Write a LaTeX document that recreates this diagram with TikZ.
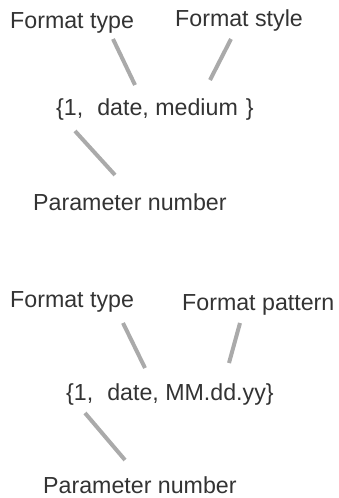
\documentclass[tikz,border=0pt]{standalone}
\usepackage{fontspec}
\setmainfont{Liberation Sans}
\usetikzlibrary{positioning}
\definecolor{labelgray}{HTML}{333333}
\definecolor{linkgray}{HTML}{AAAAAA}
\tikzset{
  lbl/.style={inner sep=0pt,anchor=base west,text=labelgray,font=\fontsize{23.2}{27}\selectfont},
  link/.style={draw=linkgray,line width=4pt,line cap=butt}
}

\begin{document}
\begin{tikzpicture}[x=1pt,y=-1pt]
\useasboundingbox (0,0) rectangle (339,498);
% top example
\node[lbl] (typeA) at (10,28) {Format type};
\node[lbl] (styleA) at (175,26) {Format style};
\node[lbl] (exprA) at (56,115) {\{1,\hspace{14pt}date, medium\hspace{8pt}\}};
\node[lbl] (paramA) at (33,210) {Parameter number};
\coordinate (typeAtop) at (113,39);
\coordinate (typeAend) at (135,85);
\coordinate (styleAtop) at (231,39);
\coordinate (styleAend) at (210,80);
\coordinate (paramAtop) at (75,131);
\coordinate (paramAend) at (115,175);
\draw[link] (typeAtop) -- (typeAend);
\draw[link] (styleAtop) -- (styleAend);
\draw[link] (paramAtop) -- (paramAend);
% bottom example
\node[lbl] (typeB) at (10,307) {Format type};
\node[lbl] (patternB) at (182,310) {Format pattern};
\node[lbl] (exprB) at (66,400) {\{1,\hspace{14pt}date, MM.dd.yy\}};
\node[lbl] (paramB) at (43,493) {Parameter number};
\coordinate (typeBtop) at (123,323);
\coordinate (typeBend) at (145,368);
\coordinate (patternBtop) at (240,323);
\coordinate (patternBend) at (229,363);
\coordinate (paramBtop) at (85,413);
\coordinate (paramBend) at (125,460);
\draw[link] (typeBtop) -- (typeBend);
\draw[link] (patternBtop) -- (patternBend);
\draw[link] (paramBtop) -- (paramBend);
\end{tikzpicture}
\end{document}
